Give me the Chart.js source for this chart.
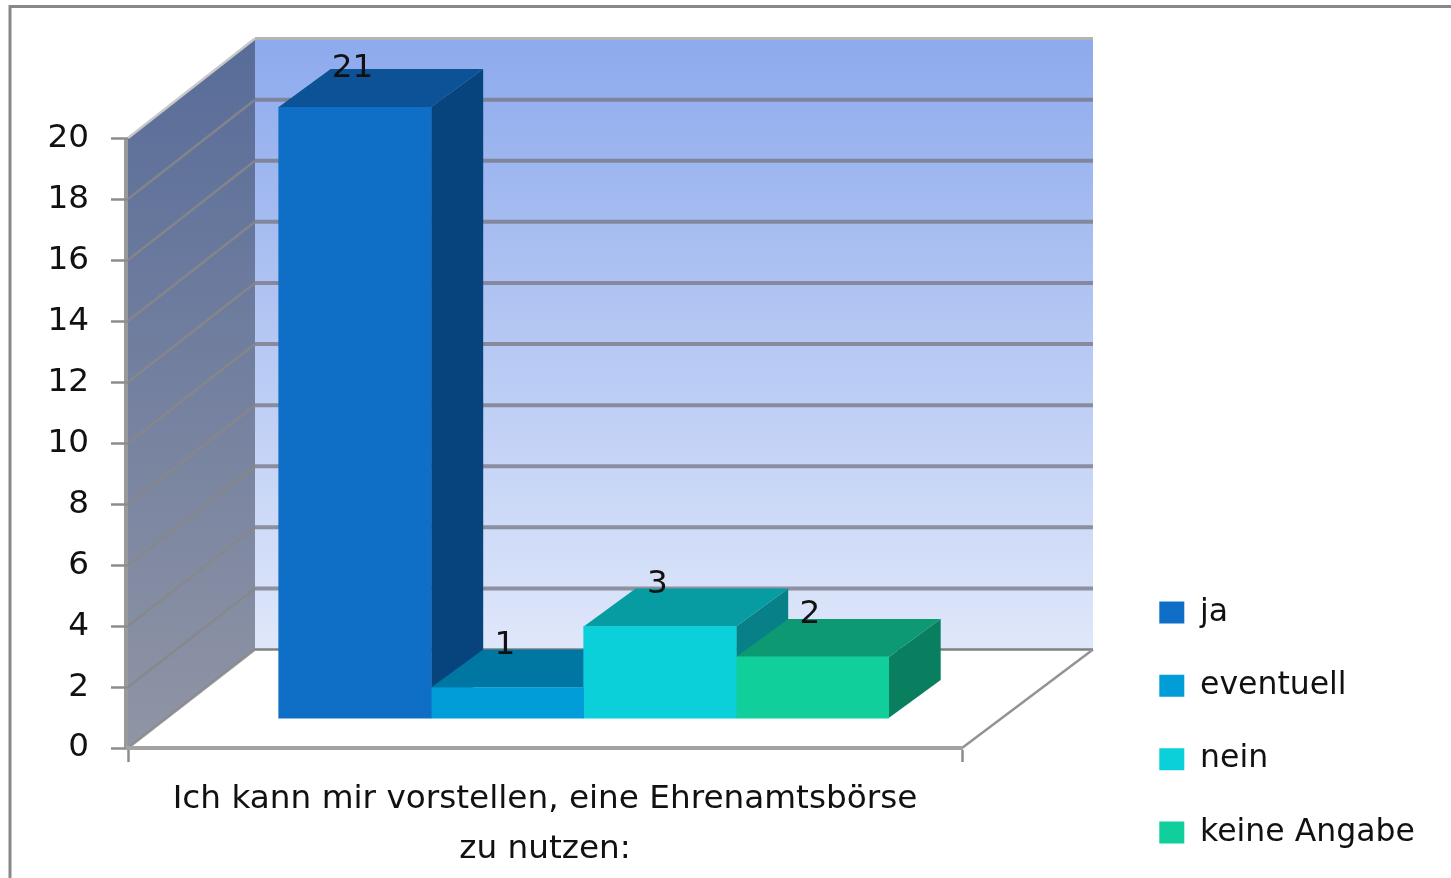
<!DOCTYPE html>
<html>
<head>
<meta charset="utf-8">
<title>Ehrenamtsbörse</title>
<script src="https://cdn.jsdelivr.net/npm/chart.js@4"></script>
<style>
  html, body { margin: 0; padding: 0; background: #fff; overflow: hidden; }
  canvas { display: block; }
</style>
</head>
<body>
<canvas id="chart" width="1451" height="878"></canvas>
<script>
// ===== Data =====
const categoryLabel = ["Ich kann mir vorstellen, eine Ehrenamtsbörse", "zu nutzen:"];
const seriesNames = ["ja", "eventuell", "nein", "keine Angabe"];
const seriesValues = [21, 1, 3, 2];
const tickValues = [0, 2, 4, 6, 8, 10, 12, 14, 16, 18, 20];
const frontColors = ["#0F6FC6", "#009DD9", "#0BD0D9", "#10CF9B"];
const topColors = ["#0B5296", "#0076A3", "#079CA2", "#0D9A72"];
const sideColors = ["#07447E", "#00617F", "#078087", "#0A7F5F"];
const axisMax = 20;

const FONT = { family: "'DejaVu Sans', sans-serif", size: 32.7 };
const DEPTH_X = 52;   // bar depth
const DEPTH_Y = 38;
const WALL_X = 127;   // floor depth

// ===== 3D box: walls, floor, bar sides, value labels =====
const box3d = {
  id: "box3d",
  afterLayout(chart) {
    // legend sits right of the floor, not next to the chart area
    // bottom goes past the canvas, otherwise the last item wraps to a new column
    const l = chart.legend;
    l.left = 1117.5; l.right = 1451; l.top = 555; l.bottom = 960;
  },
  beforeDraw(chart) {
    const { ctx, chartArea, scales } = chart;
    const back = scales.yBack, front = scales.y;
    const left = chartArea.left, right = chartArea.right;
    const wallLeft = left + WALL_X, wallRight = right + 131;
    const backTop = back.getPixelForValue(axisMax), backBottom = back.getPixelForValue(0);
    const frontTop = front.getPixelForValue(axisMax), frontBottom = front.getPixelForValue(0);

    ctx.save();
    // outer frame
    ctx.strokeStyle = "#888888";
    ctx.lineWidth = 3;
    ctx.beginPath();
    ctx.moveTo(10, 878); ctx.lineTo(10, 6.5); ctx.lineTo(1451, 6.5);
    ctx.stroke();

    // back wall
    let g = ctx.createLinearGradient(0, backTop, 0, backBottom);
    g.addColorStop(0, "#8DAAED");
    g.addColorStop(1, "#DFE7FA");
    ctx.fillStyle = g;
    ctx.fillRect(wallLeft, backTop, wallRight - wallLeft, backBottom - backTop);

    // side wall
    g = ctx.createLinearGradient(0, backTop, 0, frontBottom);
    g.addColorStop(0, "#586C99");
    g.addColorStop(1, "#9095A5");
    ctx.fillStyle = g;
    ctx.beginPath();
    ctx.moveTo(left, frontTop);
    ctx.lineTo(wallLeft, backTop);
    ctx.lineTo(wallLeft, backBottom);
    ctx.lineTo(left, frontBottom);
    ctx.closePath();
    ctx.fill();

    // grid on both walls, from the axis ticks
    front.ticks.forEach(t => {
      const yb = back.getPixelForValue(t.value);
      const yf = front.getPixelForValue(t.value);
      if (t.value === axisMax) {
        ctx.strokeStyle = "#B4B4B4";
        ctx.lineWidth = 3;
      } else if (t.value === 0) {
        ctx.strokeStyle = "#808080";
        ctx.lineWidth = 2.5;
      } else {
        ctx.strokeStyle = "rgba(118,118,128,0.75)";
        ctx.lineWidth = 4;
      }
      ctx.beginPath();
      ctx.moveTo(wallLeft, yb);
      ctx.lineTo(wallRight, yb);
      ctx.stroke();

      ctx.strokeStyle = t.value === axisMax ? "#C8C8C8" : "rgba(135,135,135,0.85)";
      ctx.lineWidth = 2.5;
      ctx.beginPath();
      ctx.moveTo(wallLeft, yb);
      ctx.lineTo(left, yf);
      ctx.stroke();
    });

    // floor right edge
    ctx.strokeStyle = "#939393";
    ctx.lineWidth = 2.5;
    ctx.beginPath();
    ctx.moveTo(wallRight, backBottom);
    ctx.lineTo(right, frontBottom);
    ctx.stroke();

    // front upright
    ctx.strokeStyle = "#999999";
    ctx.lineWidth = 4;
    ctx.beginPath();
    ctx.moveTo(left - 2, frontTop);
    ctx.lineTo(left - 2, frontBottom);
    ctx.stroke();
    ctx.restore();
  },
  beforeDatasetsDraw(chart) {
    const { ctx, chartArea } = chart;
    ctx.save();
    // left to right so each bar's top covers the foot of the side before it
    seriesValues.forEach((v, i) => {
      const el = chart.getDatasetMeta(i).data[0];
      const x0 = el.x - el.width / 2, x1 = el.x + el.width / 2;
      const top = Math.max(el.y, chartArea.top), base = el.base;

      ctx.fillStyle = sideColors[i];
      ctx.beginPath();
      ctx.moveTo(x1, top);
      ctx.lineTo(x1 + DEPTH_X, top - DEPTH_Y);
      ctx.lineTo(x1 + DEPTH_X, base - DEPTH_Y);
      ctx.lineTo(x1, base);
      ctx.closePath();
      ctx.fill();

      ctx.fillStyle = topColors[i];
      ctx.beginPath();
      ctx.moveTo(x0, top);
      ctx.lineTo(x0 + DEPTH_X, top - DEPTH_Y);
      ctx.lineTo(x1 + DEPTH_X, top - DEPTH_Y);
      ctx.lineTo(x1, top);
      ctx.closePath();
      ctx.fill();
    });
    ctx.restore();
  },
  afterDatasetsDraw(chart) {
    const { ctx, chartArea } = chart;
    ctx.save();
    ctx.font = FONT.size + "px " + FONT.family;
    ctx.fillStyle = "#111111";
    ctx.textAlign = "center";
    ctx.textBaseline = "middle";
    seriesValues.forEach((v, i) => {
      const el = chart.getDatasetMeta(i).data[0];
      const top = Math.max(el.y, chartArea.top);
      ctx.fillText(v, el.x - 2.5, top - (v > axisMax ? 38 : 42));
    });
    ctx.restore();
  }
};

// ===== Chart =====
const chart = new Chart(document.getElementById("chart"), {
  type: "bar",
  data: {
    labels: [categoryLabel],
    datasets: seriesNames.map((name, i) => ({
      label: name,
      data: [{ x: 0, y: seriesValues[i] }],
      backgroundColor: frontColors[i],
      xAxisID: "xBar",
      yAxisID: "yBar",
      barThickness: 152.5
    }))
  },
  options: {
    responsive: false,
    animation: false,
    layout: { padding: { left: 10, top: 107, right: 489, bottom: 0 } },
    plugins: {
      tooltip: { enabled: false },
      legend: {
        position: "chartArea",
        align: "start",
        onClick: null,
        labels: { boxWidth: 25, boxHeight: 22, padding: 41.8, color: "#111111", font: { ...FONT, size: 31.5 } }
      }
    },
    scales: {
      // front axis: what the tick labels show
      y: {
        position: "left",
        min: 0,
        max: 21.02,
        afterBuildTicks: s => { s.ticks = tickValues.map(value => ({ value })); },
        afterFit: s => { s.width = 118; },
        ticks: { padding: 22, color: "#111111", font: FONT },
        grid: { drawOnChartArea: false, tickLength: 17, tickColor: "#8C8C8C", tickWidth: 2.5 },
        border: { display: false }
      },
      x: {
        type: "category",
        offset: true,
        afterFit: s => { s.height = 130; },
        ticks: { maxRotation: 0, padding: 12, color: "#111111", font: { ...FONT, lineHeight: 1.53 } },
        grid: { offset: true, drawOnChartArea: false, tickLength: 14, tickColor: "#8C8C8C", tickWidth: 2.5 },
        border: { color: "#A3A3A3", width: 4 }
      },
      // bars stand on the floor, 30px behind the front edge; the scale ends at 20 so "ja" is cut off
      yBar: { display: false, min: -0.98, max: axisMax },
      // back wall, same units but lifted by the floor depth
      yBack: { display: false, min: -3.224, max: 17.76 },
      // one unit = one pixel, 0 is the middle of the bar group
      xBar: { type: "linear", display: false, min: -460, max: 374 }
    }
  },
  plugins: [box3d]
});
</script>
</body>
</html>
